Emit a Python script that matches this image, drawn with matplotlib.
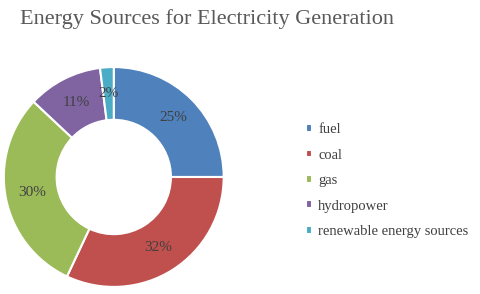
import matplotlib.pyplot as plt

# data
sources = ['fuel', 'coal', 'gas', 'hydropower', 'renewable energy sources']
shares = [25, 32, 30, 11, 2]
colors = ['#4F81BD', '#C0504D', '#9BBB59', '#8064A2', '#4BACC6']

plt.rcParams['font.family'] = ['Liberation Serif', 'DejaVu Serif']

fig = plt.figure(figsize=(4.8, 2.94), dpi=100)
ax = fig.add_axes([0.008, 0.024, 0.458, 0.748])

wedges, texts, autotexts = ax.pie(
    shares, colors=colors, startangle=90, counterclock=False,
    autopct='%d%%', pctdistance=0.76,
    wedgeprops=dict(width=0.48, edgecolor='white', linewidth=1.5),
    textprops=dict(color='#404040', fontsize=11))
ax.set_xlim(-1.0, 1.0)
ax.set_ylim(-1.0, 1.0)
ax.set_aspect('equal')

fig.text(0.042, 0.935, 'Energy Sources for Electricity Generation',
         fontsize=16, color='#595959', va='center', ha='left')

leg = fig.legend(wedges, sources, loc='upper left', bbox_to_anchor=(0.61, 0.625),
                 frameon=False, fontsize=10.5, handlelength=0.45, handleheight=0.45,
                 handletextpad=0.4, labelspacing=0.85, labelcolor='#404040')

fig.savefig('out.png', dpi=100)
